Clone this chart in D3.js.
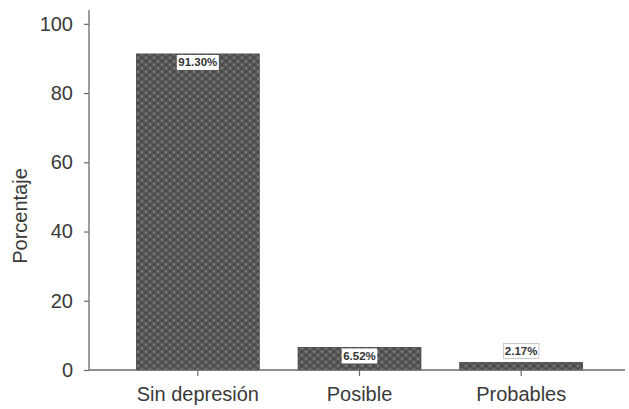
<!DOCTYPE html>
<html>
<head>
<meta charset="utf-8">
<script src="https://cdn.jsdelivr.net/npm/d3@7/dist/d3.min.js"></script>
<style>
  html, body { margin: 0; padding: 0; background: #ffffff; }
  svg { display: block; font-family: "Liberation Sans", Arial, sans-serif; }
</style>
</head>
<body>
<svg id="chart" width="629" height="409"></svg>
<script>
// Depression screening results, percentage of participants
const categories = ["Sin depresión", "Posible", "Probables"];
const values = [91.30, 6.52, 2.17];
const valueLabels = ["91.30%", "6.52%", "2.17%"];
const yTicks = [0, 20, 40, 60, 80, 100];

const svg = d3.select("#chart");
const textColor = "#3a3a3a";
const axisColor = "#6a6a6a";

// Dotted fill used for the bars
const defs = svg.append("defs");
const pat = defs.append("pattern")
  .attr("id", "dots")
  .attr("patternUnits", "userSpaceOnUse")
  .attr("width", 8).attr("height", 7);
pat.append("rect").attr("width", 8).attr("height", 7).attr("fill", "#565656");
pat.append("circle").attr("cx", 2).attr("cy", 1.75).attr("r", 1.2).attr("fill", "#7c7c7c");
pat.append("circle").attr("cx", 6).attr("cy", 5.25).attr("r", 1.2).attr("fill", "#7c7c7c");
pat.append("circle").attr("cx", 6).attr("cy", 1.75).attr("r", 0.9).attr("fill", "#3e3e3e");
pat.append("circle").attr("cx", 2).attr("cy", 5.25).attr("r", 0.9).attr("fill", "#3e3e3e");

const axisLeft = 89, axisRight = 625;
const y = d3.scaleLinear().domain([0, 104]).range([370, 10]);
const x = d3.scaleBand().domain(categories).range([117, 602]).paddingInner(0.24).paddingOuter(0.12);

// Bars
svg.append("g").selectAll("rect")
  .data(values)
  .join("rect")
  .attr("x", (d, i) => x(categories[i]))
  .attr("y", d => y(d))
  .attr("width", x.bandwidth())
  .attr("height", d => y(0) - y(d))
  .attr("fill", "url(#dots)")
  .attr("stroke", "#444")
  .attr("stroke-width", 0.8);

// Y axis
const yAxis = svg.append("g").attr("transform", `translate(${axisLeft},0)`)
  .call(d3.axisLeft(y).tickValues(yTicks).tickSize(5).tickPadding(11));
yAxis.select(".domain").remove();
yAxis.append("line").attr("x1", 0).attr("x2", 0).attr("y1", y(104)).attr("y2", y(0))
  .attr("stroke", axisColor).attr("stroke-width", 1.3);
yAxis.selectAll(".tick line").attr("stroke", axisColor).attr("stroke-width", 1.2);
yAxis.selectAll(".tick text").attr("fill", textColor).attr("font-size", 20);

// X axis
const xAxis = svg.append("g").attr("transform", `translate(0,${y(0)})`)
  .call(d3.axisBottom(x).tickSize(6).tickPadding(11));
xAxis.select(".domain").remove();
xAxis.append("line").attr("x1", axisLeft).attr("x2", axisRight).attr("y1", 0).attr("y2", 0)
  .attr("stroke", axisColor).attr("stroke-width", 1.3);
xAxis.selectAll(".tick line").attr("stroke", axisColor).attr("stroke-width", 1.2);
xAxis.selectAll(".tick text").attr("fill", textColor).attr("font-size", 20);

// Y axis title
svg.append("text")
  .attr("transform", "translate(27,216) rotate(-90)")
  .attr("text-anchor", "middle")
  .attr("fill", textColor)
  .attr("font-size", 20)
  .text("Porcentaje");

// Value labels in white boxes
const labelG = svg.append("g");
values.forEach((v, i) => {
  const cx = x(categories[i]) + x.bandwidth() / 2;
  const barTop = y(v);
  const tall = (y(0) - barTop) > 16;
  const boxH = 15;
  const boxTop = tall ? barTop + 1 : barTop - boxH - 4;
  const t = labelG.append("text")
    .attr("x", cx)
    .attr("y", boxTop + 11.5)
    .attr("text-anchor", "middle")
    .attr("font-size", 11.5)
    .attr("font-weight", "bold")
    .attr("fill", "#333")
    .text(valueLabels[i]);
  const w = t.node().getComputedTextLength() + 3;
  labelG.insert("rect", "text")
    .attr("x", cx - w / 2)
    .attr("y", boxTop)
    .attr("width", w)
    .attr("height", boxH)
    .attr("fill", "#fff")
    .attr("stroke", tall ? "none" : "#bbb")
    .attr("stroke-width", 0.8);
});
</script>
</body>
</html>
